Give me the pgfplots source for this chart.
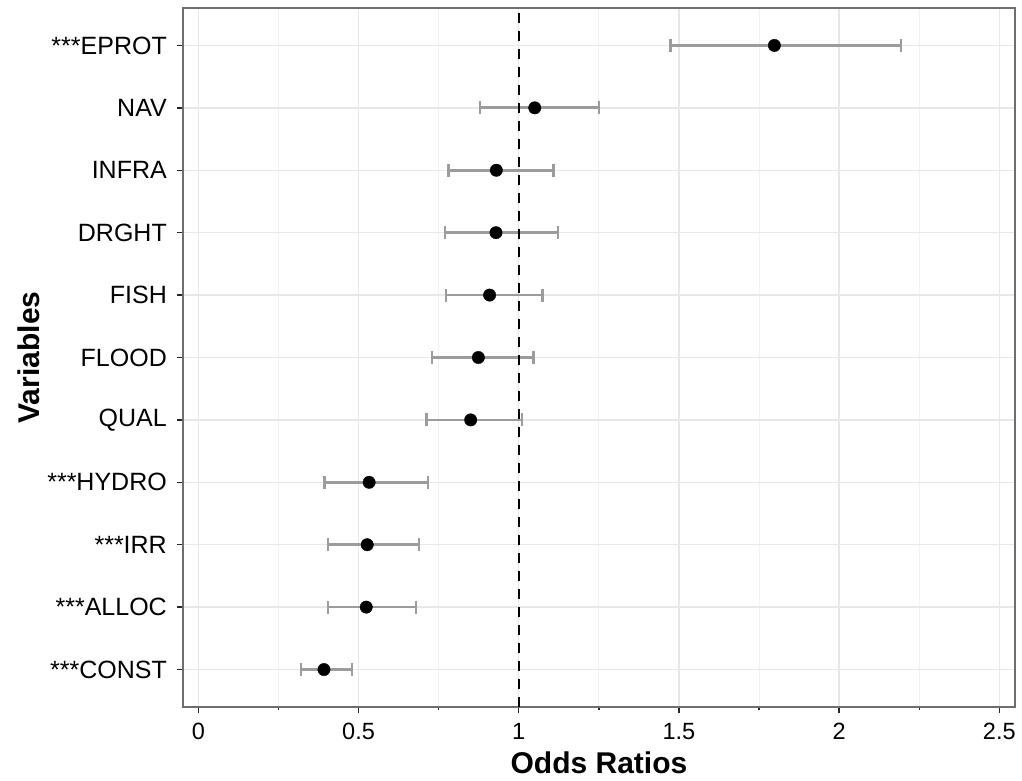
\documentclass[border=0pt]{standalone}
\usepackage{pgfplots}
\pgfplotsset{compat=1.18}
\usepackage{pgfplotstable}
\usepackage{fontspec}
\setmainfont{Liberation Sans}

\definecolor{gridmaj}{HTML}{E8E8E8}
\definecolor{gridmin}{HTML}{F2F2F2}
\definecolor{errgray}{HTML}{9C9C9C}
\definecolor{frame}{HTML}{6E6E6E}

% odds ratio with 95% CI, pos 11 = top row
\pgfplotstableread{
pos or lo hi
11 1.798 1.474 2.194
10 1.050 0.879 1.250
9 0.930 0.781 1.109
8 0.929 0.769 1.122
7 0.909 0.772 1.074
6 0.874 0.729 1.046
5 0.850 0.712 1.011
4 0.533 0.394 0.717
3 0.527 0.405 0.689
2 0.524 0.405 0.680
1 0.392 0.321 0.479
}\ordata

\begin{document}
\begin{tikzpicture}
\path[use as bounding box] (-183pt,-74pt) rectangle (839pt,707pt);
\begin{axis}[
    at={(0,0)}, anchor=south west,
    scale only axis,
    width=832pt, height=699pt,
    xmin=-0.048, xmax=2.549,
    ymin=0.4, ymax=11.6,
    xtick={0,0.5,1,1.5,2,2.5},
    xticklabels={0,0.5,1,1.5,2,2.5},
    minor xtick={0.25,0.75,1.25,1.75,2.25},
    ytick={1,...,11},
    yticklabels={***CONST,***ALLOC,***IRR,***HYDRO,QUAL,FLOOD,FISH,DRGHT,INFRA,NAV,***EPROT},
    tick align=outside,
    major tick length=6pt,
    tick style={line width=1.4pt, color=black!85},
    xtick pos=bottom, ytick pos=left,
    xmajorgrids, xminorgrids, ymajorgrids,
    major grid style={line width=1.5pt, color=gridmaj},
    minor grid style={line width=0.9pt, color=gridmin},
    axis line style={line width=1.1pt, color=frame},
    xticklabel style={font=\fontsize{23.5}{26}\selectfont, inner sep=0pt, yshift=-10pt},
    yticklabel style={font=\fontsize{25}{28}\selectfont, inner sep=0pt, xshift=-10pt},
    xlabel={Odds Ratios},
    ylabel={Variables},
    every axis x label/.style={at={(rel axis cs:0.5,0)}, anchor=center, yshift=-56pt,
        font=\fontsize{30}{34}\selectfont\bfseries},
    every axis y label/.style={at={(rel axis cs:0,0.5)}, anchor=center, rotate=90, yshift=154pt,
        font=\fontsize{30}{34}\selectfont\bfseries},
]
\addplot[only marks, mark=*, mark size=6.2pt, mark options={fill=black, draw=black},
    error bars/.cd, x dir=both, x explicit,
    error bar style={line width=2.7pt, color=errgray},
    error mark options={line width=2.4pt, color=errgray, mark size=6.5pt, rotate=90}]
    table[x=or, y=pos,
          x error plus expr=\thisrow{hi}-\thisrow{or},
          x error minus expr=\thisrow{or}-\thisrow{lo}] {\ordata};
\addplot[black, line width=2.3pt, dash pattern=on 10pt off 8pt] coordinates {(1,0.4) (1,11.6)};
\end{axis}
\end{tikzpicture}
\end{document}
